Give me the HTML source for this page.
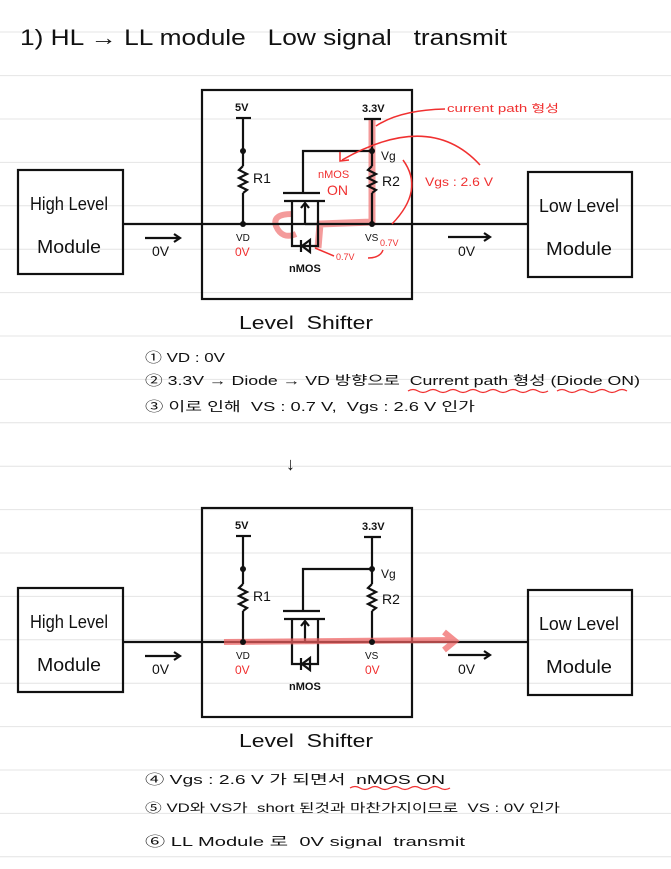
<!DOCTYPE html>
<html><head><meta charset="utf-8"><style>
html,body{margin:0;padding:0;background:#fff;}
svg{display:block;}
text{font-family:"Liberation Sans","Noto Sans CJK KR",sans-serif;fill:#111;}
.r{fill:#f03030;}
</style></head><body>
<svg width="671" height="869" viewBox="0 0 671 869" xmlns="http://www.w3.org/2000/svg">
<g stroke="#e4e4e4" stroke-width="1">
<line x1="0" y1="32" x2="671" y2="32"/><line x1="0" y1="75.6" x2="671" y2="75.6"/><line x1="0" y1="119" x2="671" y2="119"/><line x1="0" y1="162.4" x2="671" y2="162.4"/><line x1="0" y1="205.8" x2="671" y2="205.8"/><line x1="0" y1="249.2" x2="671" y2="249.2"/><line x1="0" y1="292.6" x2="671" y2="292.6"/><line x1="0" y1="336" x2="671" y2="336"/><line x1="0" y1="379.4" x2="671" y2="379.4"/><line x1="0" y1="422.8" x2="671" y2="422.8"/><line x1="0" y1="466.2" x2="671" y2="466.2"/><line x1="0" y1="509.6" x2="671" y2="509.6"/><line x1="0" y1="553" x2="671" y2="553"/><line x1="0" y1="596.4" x2="671" y2="596.4"/><line x1="0" y1="639.8" x2="671" y2="639.8"/><line x1="0" y1="683.2" x2="671" y2="683.2"/><line x1="0" y1="726.6" x2="671" y2="726.6"/><line x1="0" y1="770" x2="671" y2="770"/><line x1="0" y1="813.4" x2="671" y2="813.4"/><line x1="0" y1="856.8" x2="671" y2="856.8"/>
</g>
<text x="20" y="45" font-size="22" textLength="487" lengthAdjust="spacingAndGlyphs">1) HL → LL module &#160; Low signal &#160; transmit</text>

<!-- TOP -->
<g>
<path d="M372,120 L372,222 L320,224 L318,248" stroke="#f07070" stroke-width="7" fill="none" opacity="0.7"/>
<path d="M292,214 Q272,214 276,226 Q282,240 296,234" stroke="#f07070" stroke-width="6" fill="none" opacity="0.7"/>
<g stroke="#111" stroke-width="2.2" fill="none">
<rect x="202" y="90" width="210" height="209"/>
<rect x="18" y="170" width="105" height="104"/>
<rect x="528" y="172" width="104" height="105"/>
<line x1="123" y1="224" x2="528" y2="224"/>
<line x1="145" y1="238" x2="180" y2="238"/><path d="M174,234 L180,238 L174,242"/>
<line x1="448" y1="237" x2="490" y2="237"/><path d="M484,233 L490,237 L484,241"/>
<line x1="236" y1="118" x2="251" y2="118"/><line x1="243" y1="118" x2="243" y2="166"/>
<path d="M243,166 l-4,4 l8,4 l-8,4 l8,4 l-8,4 l8,4 l-4,3"/><line x1="243" y1="193" x2="243" y2="224"/>
<line x1="364" y1="119" x2="381" y2="119"/><line x1="372" y1="119" x2="372" y2="166"/>
<path d="M372,166 l-4,4 l8,4 l-8,4 l8,4 l-8,4 l8,4 l-4,3"/><line x1="372" y1="193" x2="372" y2="224"/>
<path d="M372,151 L303,151 L303,193"/><line x1="283" y1="193" x2="320" y2="193"/>
<line x1="284" y1="201" x2="325" y2="201"/>
<path d="M292,201 L292,246 L318,246 L318,201"/>
<path d="M305,224 L305,203 M301,208 L305,203 L309,208 M305,224 L318,224"/>
<path d="M310,240 L302,246 L310,252 Z M301,240 L301,252"/>
</g>
<g fill="#111"><circle cx="243" cy="151" r="3"/><circle cx="243" cy="224" r="3"/><circle cx="372" cy="151" r="3"/><circle cx="372" cy="224" r="3"/></g>
<text x="30" y="210" font-size="18" textLength="78" lengthAdjust="spacingAndGlyphs">High Level</text><text x="37" y="253" font-size="18" textLength="64" lengthAdjust="spacingAndGlyphs">Module</text>
<text x="539" y="212" font-size="18" textLength="80" lengthAdjust="spacingAndGlyphs">Low Level</text><text x="546" y="255" font-size="18" textLength="66" lengthAdjust="spacingAndGlyphs">Module</text>
<text x="152" y="256" font-size="14">0V</text><text x="458" y="256" font-size="14">0V</text>
<text x="235" y="111" font-size="11" font-weight="bold">5V</text><text x="362" y="112" font-size="11" font-weight="bold">3.3V</text>
<text x="253" y="183" font-size="14">R1</text><text x="382" y="186" font-size="14">R2</text><text x="381" y="160" font-size="12">Vg</text>
<text x="236" y="241" font-size="10">VD</text><text x="365" y="241" font-size="10">VS</text>
<text x="289" y="272" font-size="11" font-weight="bold">nMOS</text>
<text x="235" y="256" font-size="12" class="r">0V</text>
<text x="239" y="329" font-size="18" textLength="134" lengthAdjust="spacingAndGlyphs">Level &#160;Shifter</text>
<text x="447" y="112" font-size="11" class="r" textLength="112" lengthAdjust="spacingAndGlyphs">current path 형성</text>
<text x="318" y="178" font-size="11" class="r">nMOS</text><text x="327" y="195" font-size="14" class="r">ON</text>
<text x="425" y="186" font-size="12" class="r" textLength="68" lengthAdjust="spacingAndGlyphs">Vgs : 2.6 V</text>
<text x="336" y="260" font-size="9" class="r">0.7V</text><text x="380" y="246" font-size="9" class="r">0.7V</text>
<g stroke="#f03030" stroke-width="1.5" fill="none">
<path d="M445,109 Q400,110 376,126"/>
<path d="M480,165 Q430,110 342,160"/><path d="M340,152 L340,161 L349,160"/>
<path d="M403,160 Q425,190 392,224"/>
<path d="M315,248 L334,256"/>
<path d="M368,258 Q380,258 383,250"/>
</g>
</g>

<text x="145" y="362" font-size="13" textLength="80" lengthAdjust="spacingAndGlyphs">① VD : 0V</text>
<text x="145" y="385" font-size="13" textLength="495" lengthAdjust="spacingAndGlyphs">② 3.3V → Diode → VD 방향으로 &#160;Current path 형성 (Diode ON)</text>
<path d="M408,391 q5,-3 10,0 t10,0 t10,0 t10,0 t10,0 t10,0 t10,0 t10,0 t10,0 t10,0 t10,0 t10,0 t10,0 t10,0 M557,391 q5,-3 10,0 t10,0 t10,0 t10,0 t10,0 t10,0 t10,0" stroke="#f03030" stroke-width="1.3" fill="none"/>
<text x="145" y="411" font-size="13" textLength="330" lengthAdjust="spacingAndGlyphs">③ 이로 인해 &#160;VS : 0.7 V, &#160;Vgs : 2.6 V 인가</text>
<text x="286" y="470" font-size="18">↓</text>

<!-- BOTTOM -->
<g transform="translate(0,418)">
<g stroke="#111" stroke-width="2.2" fill="none">
<rect x="202" y="90" width="210" height="209"/>
<rect x="18" y="170" width="105" height="104"/>
<rect x="528" y="172" width="104" height="105"/>
<line x1="123" y1="224" x2="528" y2="224"/>
<line x1="145" y1="238" x2="180" y2="238"/><path d="M174,234 L180,238 L174,242"/>
<line x1="448" y1="237" x2="490" y2="237"/><path d="M484,233 L490,237 L484,241"/>
<line x1="236" y1="118" x2="251" y2="118"/><line x1="243" y1="118" x2="243" y2="166"/>
<path d="M243,166 l-4,4 l8,4 l-8,4 l8,4 l-8,4 l8,4 l-4,3"/><line x1="243" y1="193" x2="243" y2="224"/>
<line x1="364" y1="119" x2="381" y2="119"/><line x1="372" y1="119" x2="372" y2="166"/>
<path d="M372,166 l-4,4 l8,4 l-8,4 l8,4 l-8,4 l8,4 l-4,3"/><line x1="372" y1="193" x2="372" y2="224"/>
<path d="M372,151 L303,151 L303,193"/><line x1="283" y1="193" x2="320" y2="193"/>
<line x1="284" y1="201" x2="325" y2="201"/>
<path d="M292,201 L292,246 L318,246 L318,201"/>
<path d="M305,224 L305,203 M301,208 L305,203 L309,208 M305,224 L318,224"/>
<path d="M310,240 L302,246 L310,252 Z M301,240 L301,252"/>
</g>
<path d="M224,224 L452,222 M444,214 L455,223 L444,232" stroke="#f06060" stroke-width="6" fill="none" opacity="0.7"/>
<g fill="#111"><circle cx="243" cy="151" r="3"/><circle cx="243" cy="224" r="3"/><circle cx="372" cy="151" r="3"/><circle cx="372" cy="224" r="3"/></g>
<text x="30" y="210" font-size="18" textLength="78" lengthAdjust="spacingAndGlyphs">High Level</text><text x="37" y="253" font-size="18" textLength="64" lengthAdjust="spacingAndGlyphs">Module</text>
<text x="539" y="212" font-size="18" textLength="80" lengthAdjust="spacingAndGlyphs">Low Level</text><text x="546" y="255" font-size="18" textLength="66" lengthAdjust="spacingAndGlyphs">Module</text>
<text x="152" y="256" font-size="14">0V</text><text x="458" y="256" font-size="14">0V</text>
<text x="235" y="111" font-size="11" font-weight="bold">5V</text><text x="362" y="112" font-size="11" font-weight="bold">3.3V</text>
<text x="253" y="183" font-size="14">R1</text><text x="382" y="186" font-size="14">R2</text><text x="381" y="160" font-size="12">Vg</text>
<text x="236" y="241" font-size="10">VD</text><text x="365" y="241" font-size="10">VS</text>
<text x="289" y="272" font-size="11" font-weight="bold">nMOS</text>
<text x="235" y="256" font-size="12" class="r">0V</text><text x="365" y="256" font-size="12" class="r">0V</text>
<text x="239" y="329" font-size="18" textLength="134" lengthAdjust="spacingAndGlyphs">Level &#160;Shifter</text>
</g>

<text x="145" y="784" font-size="13" textLength="300" lengthAdjust="spacingAndGlyphs">④ Vgs : 2.6 V 가 되면서 &#160;nMOS ON</text>
<path d="M350,788 q5,-3 10,0 t10,0 t10,0 t10,0 t10,0 t10,0 t10,0 t10,0 t10,0 t10,0" stroke="#f03030" stroke-width="1.3" fill="none"/>
<text x="145" y="812" font-size="12" textLength="415" lengthAdjust="spacingAndGlyphs">⑤ VD와 VS가 &#160;short 된것과 마찬가지이므로 &#160;VS : 0V 인가</text>
<text x="145" y="846" font-size="13" textLength="320" lengthAdjust="spacingAndGlyphs">⑥ LL Module 로 &#160;0V signal &#160;transmit</text>
</svg>
</body></html>
